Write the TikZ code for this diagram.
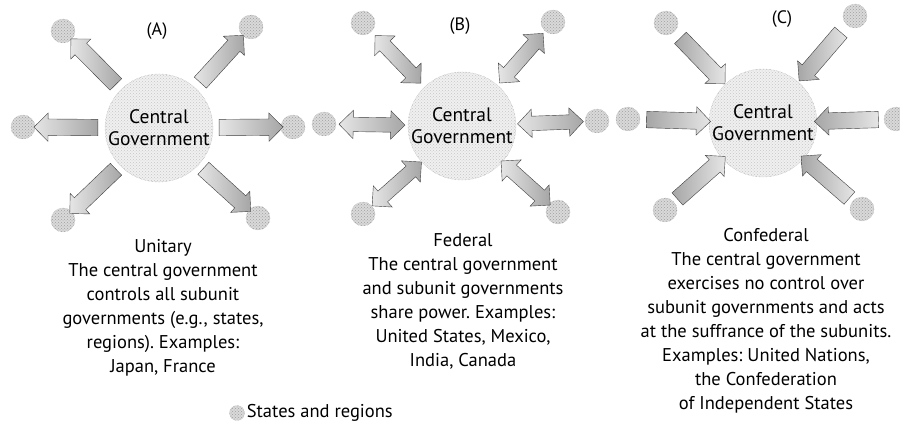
\documentclass[tikz,border=0pt]{standalone}
\usepackage{fontspec}
\setmainfont{PT Sans}
\usetikzlibrary{shapes,arrows,positioning,patterns}
\frenchspacing

\begin{document}
\begin{tikzpicture}[x=1pt,y=-1pt,
	govt/.style={circle,draw=gray!80,densely dotted,fill=gray!12,minimum size=108pt,inner sep=0pt,align=center,font=\fontsize{19.5}{22}\selectfont,postaction={pattern=crosshatch dots,pattern color=gray!45}},
	unit/.style={circle,draw=gray!80,densely dotted,fill=gray!30,minimum size=24pt,inner sep=0pt,postaction={pattern=crosshatch dots,pattern color=gray!75}},
	outarrow/.style={single arrow,draw=black!75,thin,minimum height=64pt,single arrow head extend=6pt,inner xsep=0pt,inner ysep=8pt,sloped,allow upside down},
	twoarrow/.style={double arrow,draw=black!75,thin,minimum height=66pt,double arrow head extend=7pt,inner xsep=0pt,inner ysep=7pt,sloped,allow upside down,left color=gray!20,right color=gray!70},
	desc/.style={anchor=north,align=center,inner sep=0pt,font=\fontsize{18.5}{24}\selectfont},
	tag/.style={font=\fontsize{18}{20}\selectfont}]
	\useasboundingbox (0,0) rectangle (900,428);

	% (A) unitary
	\node[govt] (cgA) at (159,128) {Central\\Government};
	\foreach \n/\x/\y in {1/63/31,2/251/27,3/23/127,4/293/127,5/63/220,6/258/218} \node[unit] (sA\n) at (\x,\y) {};
	\foreach \n in {1,...,6} \path (cgA) -- node[outarrow,left color=gray!20,right color=gray!70] {} (sA\n);
	\node[tag] (tA) at (157,31) {(A)};
	\node[desc] (dA) at (163,239) {Unitary\\The central government\\controls all subunit\\governments (e.g., states,\\regions). Examples:\\Japan, France};

	% (B) federal
	\node[govt] (cgB) at (462,126) {Central\\Government};
	\foreach \n/\x/\y in {1/363/23,2/553/22,3/324/124,4/597/121,5/363/214,6/558/212} \node[unit] (sB\n) at (\x,\y) {};
	\foreach \n in {1,...,6} \path (cgB) -- node[twoarrow] {} (sB\n);
	\node[tag] (tB) at (460,26) {(B)};
	\node[desc] (dB) at (463,233) {Federal\\The central government\\and subunit governments\\share power. Examples:\\United States, Mexico,\\India, Canada};

	% (C) confederal
	\node[govt] (cgC) at (763,123) {Central\\Government};
	\foreach \n/\x/\y in {1/666/23,2/855/16,3/628/119,4/896/119,5/665/210,6/862/209} \node[unit] (sC\n) at (\x,\y) {};
	\foreach \n in {1,...,6} \path (sC\n) -- node[outarrow,left color=gray!70,right color=gray!20] {} (cgC);
	\node[tag] (tC) at (782,19) {(C)};
	\node[desc] (dC) at (766,228) {Confederal\\The central government\\exercises no control over\\subunit governments and acts\\at the suffrance of the subunits.\\Examples: United Nations,\\the Confederation\\of Independent States};

	% key
	\node[unit,minimum size=15pt] (key) at (237,413) {};
	\node[right=2pt of key,inner sep=0pt,font=\fontsize{18.5}{20}\selectfont] (keytext) {States and regions};
\end{tikzpicture}
\end{document}
